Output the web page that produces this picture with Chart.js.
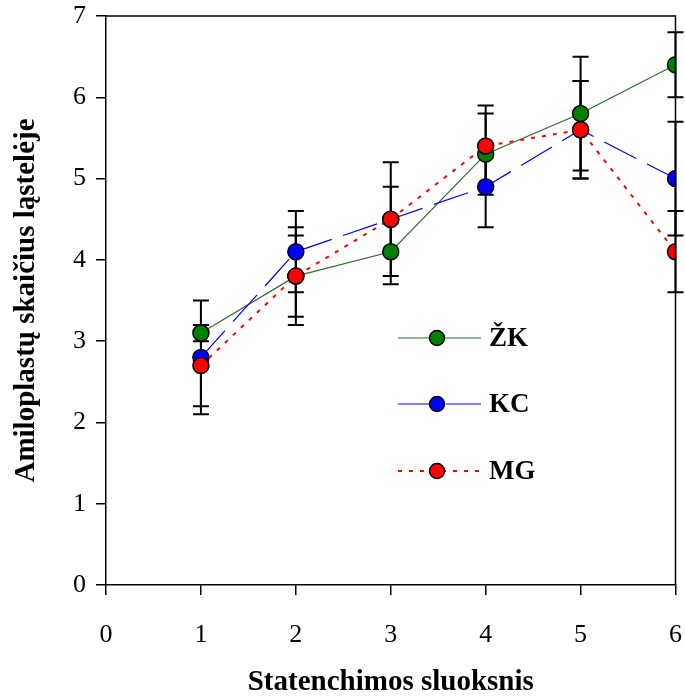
<!DOCTYPE html>
<html>
<head>
<meta charset="utf-8">
<script src="https://cdn.jsdelivr.net/npm/chart.js@4"></script>
<style>
  html, body { margin: 0; padding: 0; background: #fff; }
  #wrap { width: 685px; height: 697px; }
</style>
</head>
<body>
<div id="wrap"><canvas id="chart"></canvas></div>
<script>
// Layers of statenchyma (x) and mean amyloplast counts with error
const layers = [1, 2, 3, 4, 5, 6];

const zkValues = [3.1, 3.8, 4.1, 5.3, 5.8, 6.4];
const zkErrors = [0.1, 0.6, 0.4, 0.5, 0.7, 0.4];

const kcValues = [2.8, 4.1, 4.5, 4.9, 5.6, 5.0];
const kcErrors = [0.7, 0.5, 0.4, 0.5, 0.6, 0.7];

const mgValues = [2.7, 3.8, 4.5, 5.4, 5.6, 4.1];
const mgErrors = [0.5, 0.5, 0.7, 0.5, 0.6, 0.5];

const xTicks = [0, 1, 2, 3, 4, 5, 6];
const yTicks = [0, 1, 2, 3, 4, 5, 6, 7];

const serif = "'Liberation Serif', 'Times New Roman', serif";

function toPoints(values) {
  return values.map((v, i) => ({ x: layers[i], y: v }));
}

function makeSeries(label, values, errors, lineColor, fill, width, dash, order) {
  return {
    label: label,
    data: toPoints(values),
    errors: errors,
    order: order,
    showLine: true,
    borderColor: lineColor,
    borderWidth: width,
    borderDash: dash,
    pointRadius: 8,
    pointHoverRadius: 8,
    pointBackgroundColor: fill,
    pointBorderColor: '#000',
    pointBorderWidth: 1.5,
    tension: 0
  };
}

// vertical error bars with caps, drawn under the markers
const errorBars = {
  id: 'errorBars',
  beforeDatasetsDraw(chart) {
    const ctx = chart.ctx;
    const xs = chart.scales.x;
    const ys = chart.scales.y;
    ctx.save();
    ctx.strokeStyle = '#000';
    ctx.lineWidth = 2;
    chart.data.datasets.forEach((ds) => {
      ds.data.forEach((p, i) => {
        const e = ds.errors[i];
        const px = xs.getPixelForValue(p.x);
        const top = ys.getPixelForValue(p.y + e);
        const bot = ys.getPixelForValue(p.y - e);
        ctx.beginPath();
        ctx.moveTo(px, top);
        ctx.lineTo(px, bot);
        ctx.moveTo(px - 8, top);
        ctx.lineTo(px + 8, top);
        ctx.moveTo(px - 8, bot);
        ctx.lineTo(px + 8, bot);
        ctx.stroke();
      });
    });
    ctx.restore();
  }
};

// top and right edges of the plot frame
const frame = {
  id: 'frame',
  afterDraw(chart) {
    const a = chart.chartArea;
    const ctx = chart.ctx;
    ctx.save();
    ctx.strokeStyle = '#000';
    ctx.lineWidth = 1.5;
    ctx.beginPath();
    ctx.moveTo(a.left, a.top);
    ctx.lineTo(a.right, a.top);
    ctx.lineTo(a.right, a.bottom);
    ctx.stroke();
    ctx.restore();
  }
};

// legend inside the plot area
const insideLegend = {
  id: 'insideLegend',
  afterDatasetsDraw(chart) {
    const ctx = chart.ctx;
    const rows = [338, 404, 471];
    ctx.save();
    chart.data.datasets.forEach((ds, i) => {
      const y = rows[i];
      ctx.strokeStyle = ds.borderColor;
      ctx.lineWidth = ds.borderWidth;
      ctx.setLineDash(ds.borderDash || []);
      ctx.beginPath();
      ctx.moveTo(398, y);
      ctx.lineTo(481, y);
      ctx.stroke();
      ctx.setLineDash([]);
      ctx.beginPath();
      ctx.arc(437, y, 7.5, 0, Math.PI * 2);
      ctx.fillStyle = ds.pointBackgroundColor;
      ctx.fill();
      ctx.lineWidth = 1.5;
      ctx.strokeStyle = '#000';
      ctx.stroke();
      ctx.fillStyle = '#000';
      ctx.font = 'bold 27px ' + serif;
      ctx.textAlign = 'left';
      ctx.textBaseline = 'middle';
      ctx.fillText(ds.label, 489, y + 1);
    });
    ctx.restore();
  }
};

const chart = new Chart(document.getElementById('chart'), {
  type: 'scatter',
  data: {
    datasets: [
      makeSeries('ŽK', zkValues, zkErrors, '#2f6a2f', '#008000', 1.2, [], 3),
      makeSeries('KC', kcValues, kcErrors, '#0000ff', '#0000ff', 1.2, [36, 12], 2),
      makeSeries('MG', mgValues, mgErrors, '#ff0000', '#ff0000', 2, [4, 7], 1)
    ]
  },
  options: {
    responsive: true,
    maintainAspectRatio: false,
    animation: false,
    layout: { padding: { top: 16, right: 9, left: 0, bottom: 0 } },
    plugins: {
      legend: { display: false },
      tooltip: { enabled: false }
    },
    scales: {
      x: {
        type: 'linear',
        min: 0,
        max: 6,
        afterBuildTicks: (s) => { s.ticks = xTicks.map((v) => ({ value: v })); },
        afterFit: (s) => {
          s.height = 112;
          s.paddingLeft = 0;
          s.paddingRight = 0;
        },
        grid: { drawOnChartArea: false, drawTicks: true, tickLength: 10, color: '#000', lineWidth: 1.5 },
        border: { display: true, color: '#000', width: 1.5 },
        ticks: { color: '#000', padding: 25, font: { family: serif, size: 26 }, maxRotation: 0 },
        title: {
          display: true,
          text: 'Statenchimos sluoksnis',
          color: '#000',
          font: { family: serif, size: 29, weight: 'bold', lineHeight: 1 },
          padding: { top: 0, bottom: 0 }
        }
      },
      y: {
        min: 0,
        max: 7,
        afterBuildTicks: (s) => { s.ticks = yTicks.map((v) => ({ value: v })); },
        afterFit: (s) => {
          s.width = 106;
          s.paddingTop = 0;
          s.paddingBottom = 0;
        },
        grid: { drawOnChartArea: false, drawTicks: true, tickLength: 10, color: '#000', lineWidth: 1.5 },
        border: { display: true, color: '#000', width: 1.5 },
        ticks: { color: '#000', padding: 10, font: { family: serif, size: 26 } },
        title: {
          display: true,
          text: 'Amiloplastų skaičius ląstelėje',
          color: '#000',
          font: { family: serif, size: 29, weight: 'bold', lineHeight: 1 },
          padding: { top: 12, bottom: 0 }
        }
      }
    }
  },
  plugins: [errorBars, frame, insideLegend]
});
</script>
</body>
</html>
